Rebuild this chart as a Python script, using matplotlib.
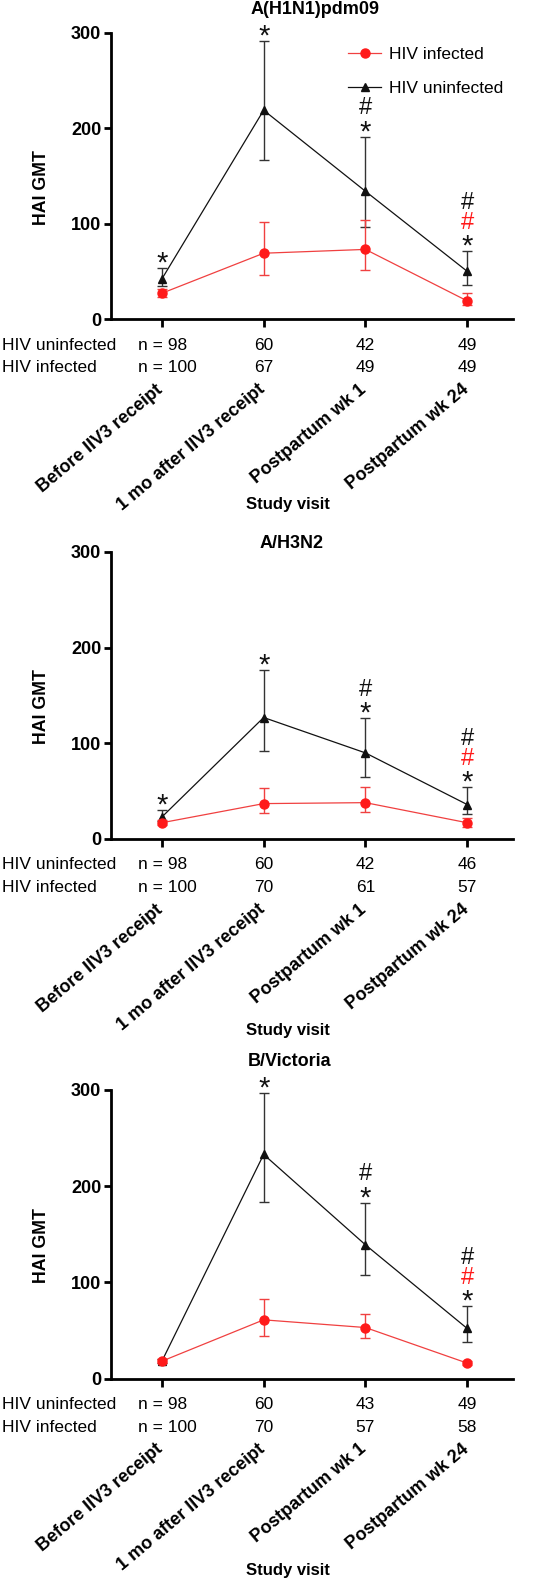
import numpy as np
import matplotlib
matplotlib.use('Agg')
import matplotlib.pyplot as plt

plt.rcParams["font.family"] = ["Liberation Sans", "DejaVu Sans"]

#%% Data
panel_titles = ["A(H1N1)pdm09", "A/H3N2", "B/Victoria"]
visits = ["Before IIV3 receipt", "1 mo after IIV3 receipt", "Postpartum wk 1", "Postpartum wk 24"]
series_labels = ["HIV infected", "HIV uninfected"]

# HAI GMT, lower and upper 95% CI
h1_inf = [27, 69, 73, 19]
h1_inf_lo = [23, 46, 51, 15]
h1_inf_hi = [31, 102, 104, 27]
h1_unf = [42, 219, 134, 50]
h1_unf_lo = [35, 167, 96, 36]
h1_unf_hi = [53, 292, 191, 71]

h3_inf = [17, 37, 38, 17]
h3_inf_lo = [15, 27, 28, 13]
h3_inf_hi = [20, 53, 54, 22]
h3_unf = [23, 127, 90, 36]
h3_unf_lo = [19, 92, 65, 26]
h3_unf_hi = [30, 177, 126, 54]

bv_inf = [18, 61, 53, 16]
bv_inf_lo = [16, 44, 42, 14]
bv_inf_hi = [20, 83, 67, 18]
bv_unf = [18, 233, 139, 52]
bv_unf_lo = [16, 184, 108, 38]
bv_unf_hi = [20, 297, 183, 75]

# number of participants per visit
h1_n_unf = [98, 60, 42, 49]
h1_n_inf = [100, 67, 49, 49]
h3_n_unf = [98, 60, 42, 46]
h3_n_inf = [100, 70, 61, 57]
bv_n_unf = [98, 60, 43, 49]
bv_n_inf = [100, 70, 57, 58]

# significance marks above the uninfected series
# star: uninfected vs infected; black #: uninfected vs baseline; red #: infected vs baseline
h1_star = [1, 1, 1, 1]
h1_hash_unf = [0, 0, 1, 1]
h1_hash_inf = [0, 0, 0, 1]
h3_star = [1, 1, 1, 1]
h3_hash_unf = [0, 0, 1, 1]
h3_hash_inf = [0, 0, 0, 1]
bv_star = [0, 1, 1, 1]
bv_hash_unf = [0, 0, 1, 1]
bv_hash_inf = [0, 0, 0, 1]

panels = [
    (h1_inf, h1_inf_lo, h1_inf_hi, h1_unf, h1_unf_lo, h1_unf_hi, h1_n_unf, h1_n_inf, h1_star, h1_hash_unf, h1_hash_inf),
    (h3_inf, h3_inf_lo, h3_inf_hi, h3_unf, h3_unf_lo, h3_unf_hi, h3_n_unf, h3_n_inf, h3_star, h3_hash_unf, h3_hash_inf),
    (bv_inf, bv_inf_lo, bv_inf_hi, bv_unf, bv_unf_lo, bv_unf_hi, bv_n_unf, bv_n_inf, bv_star, bv_hash_unf, bv_hash_inf),
]

#%% Layout
W, H = 552, 1584
px = 0.72  # points per pixel at dpi 100
axes_rects = [(111, 319, 286), (111, 839, 287), (111, 1378.5, 288.5)]  # left, bottom (from top), height in px
axes_w = 402
title_pos = [(315, 10), (292, 543), (290, 1061)]
xlabel_y = [505, 1030, 1571]
red = "#ff1a1a"
red_line = "#f04040"
black = "#111111"
fs = 12.5
star_fs, hash_fs = 21, 17

fig = plt.figure(figsize=(W / 100, H / 100), dpi=100)

for k, (inf, inf_lo, inf_hi, unf, unf_lo, unf_hi, n_unf, n_inf, star, hash_unf, hash_inf) in enumerate(panels):
    left, bot, hgt = axes_rects[k]
    ax = fig.add_axes([left / W, 1 - bot / H, axes_w / W, hgt / H])
    x = np.arange(len(visits))

    unf = np.array(unf); inf = np.array(inf)
    ax.errorbar(x, unf, yerr=[unf - np.array(unf_lo), np.array(unf_hi) - unf], fmt='none',
                ecolor="#333333", elinewidth=1, capsize=3.5, capthick=1, zorder=2, clip_on=False)
    ax.plot(x, unf, '-^', color=black, lw=0.9, markersize=6, label=series_labels[1], zorder=3, clip_on=False)
    ax.errorbar(x, inf, yerr=[inf - np.array(inf_lo), np.array(inf_hi) - inf], fmt='none',
                ecolor=red_line, elinewidth=1, capsize=3.5, capthick=1, zorder=4, clip_on=False)
    ax.plot(x, inf, '-o', color=red_line, mfc=red, mec=red, lw=0.9, markersize=6.5, label=series_labels[0],
            zorder=5, clip_on=False)

    ax.set_xlim(-0.5, 3.45)
    ax.set_ylim(0, 300)
    ax.set_yticks([0, 100, 200, 300])
    ax.set_xticks(x)
    ax.set_xticklabels([])
    for s in ["top", "right"]:
        ax.spines[s].set_visible(False)
    for s in ["left", "bottom"]:
        ax.spines[s].set_linewidth(2)
    ax.tick_params(axis='y', length=5, width=2, pad=2, labelsize=13)
    ax.tick_params(axis='x', length=6, width=2)
    for lab in ax.get_yticklabels():
        lab.set_fontweight('bold')

    ax.set_ylabel("HAI GMT", fontsize=12.8, fontweight='bold')
    ax.yaxis.set_label_coords(-0.152, 0.46)

    # significance marks, stacked bottom-up above the upper CI
    for i in range(len(visits)):
        marks = []
        if star[i]:
            marks.append(("*", black))
        if hash_inf[i]:
            marks.append(("#", red))
        if hash_unf[i]:
            marks.append(("#", black))
        for j, (m, c) in enumerate(marks):
            centre = 11 + 20 * j
            if m == "*":
                base, size = centre - 0.5 * star_fs / px, star_fs
            else:
                base, size = centre - 0.36 * hash_fs / px, hash_fs
            ax.annotate(m, xy=(i, unf_hi[i]), xytext=(0, base * px), textcoords='offset points',
                        ha='center', va='baseline', fontsize=size, color=c, annotation_clip=False)

    # n table
    for row, (lab, nvals, dy) in enumerate([(series_labels[1], n_unf, -26), (series_labels[0], n_inf, -49)]):
        ax.annotate(lab, xy=(0, 0), xycoords=('figure fraction', 'axes fraction'),
                    xytext=(2 * px, dy * px), textcoords='offset points', ha='left', va='center', fontsize=fs)
        for i, n in enumerate(nvals):
            if i == 0:
                ax.annotate(f"n = {n}", xy=(i, 0), xycoords=('data', 'axes fraction'),
                            xytext=(-24 * px, dy * px), textcoords='offset points', ha='left', va='center', fontsize=fs)
            else:
                ax.annotate(f"{n}", xy=(i, 0), xycoords=('data', 'axes fraction'),
                            xytext=(0, dy * px), textcoords='offset points', ha='center', va='center', fontsize=fs)

    # rotated visit labels
    for i, v in enumerate(visits):
        ax.annotate(v, xy=(i, 0), xycoords=('data', 'axes fraction'), xytext=(2 * px, -72 * px),
                    textcoords='offset points', ha='right', va='baseline', rotation=40,
                    rotation_mode='anchor', fontsize=13, fontweight='bold')

    fig.text(title_pos[k][0] / W, 1 - title_pos[k][1] / H, panel_titles[k], ha='center', va='center',
             fontsize=13, fontweight='bold')
    fig.text(288 / W, 1 - xlabel_y[k] / H, "Study visit", ha='center', va='center', fontsize=12, fontweight='bold')

    if k == 0:
        handles, labels = ax.get_legend_handles_labels()
        ax.legend(handles[::-1], labels[::-1], loc='upper left', bbox_to_anchor=(0.59, 0.95), frameon=False,
                  fontsize=fs, handlelength=1.9, handletextpad=0.45, labelspacing=1.05, borderpad=0, borderaxespad=0)

fig.savefig("out.png", dpi=100)
